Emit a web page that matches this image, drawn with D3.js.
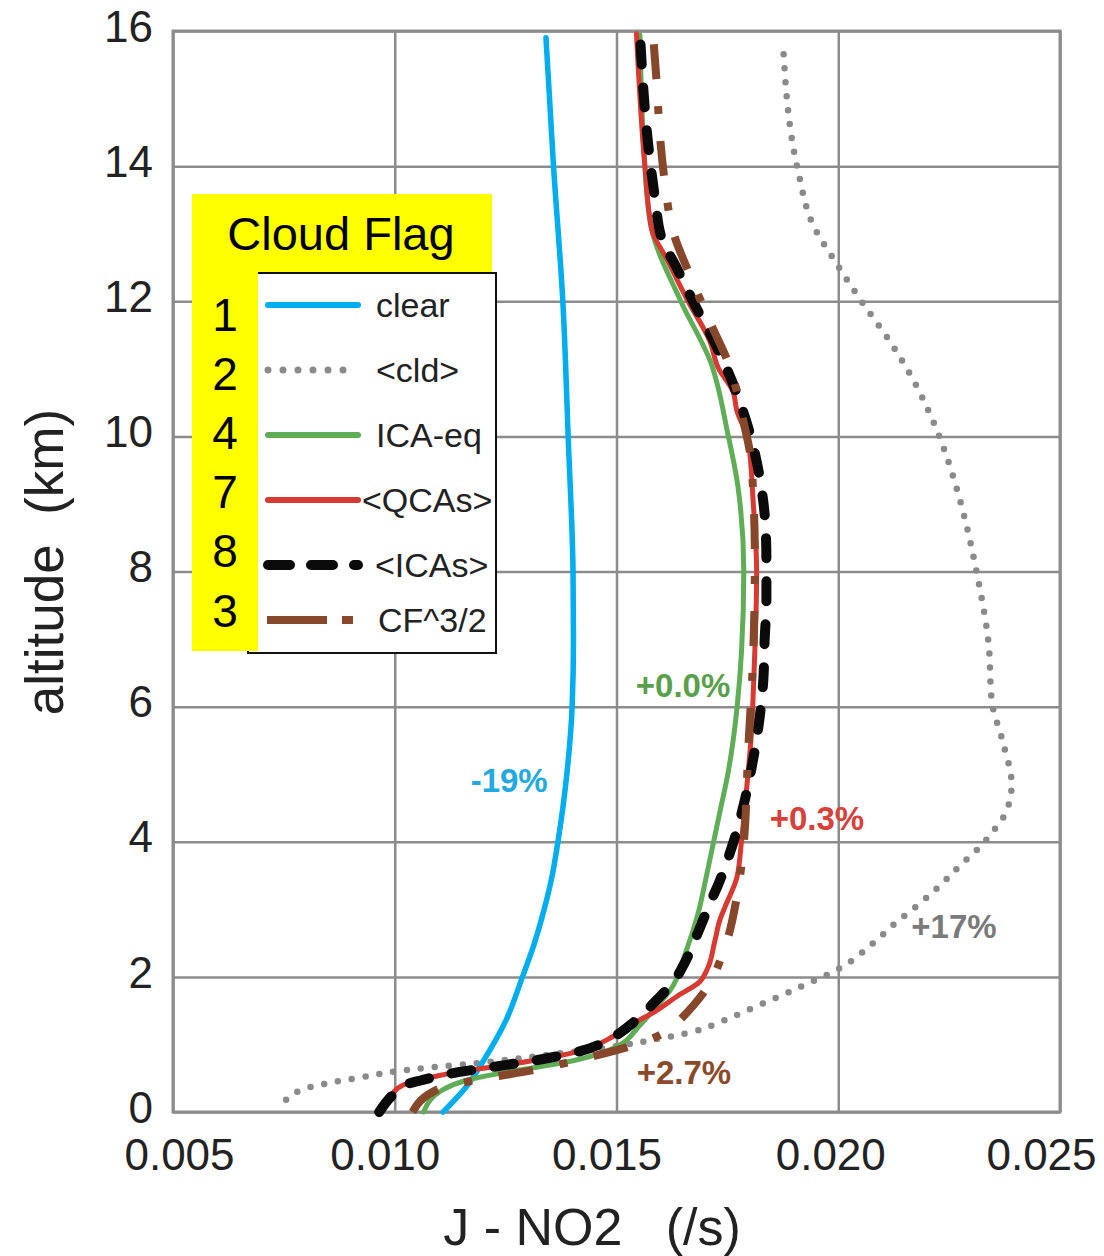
<!DOCTYPE html>
<html>
<head>
<meta charset="utf-8">
<script src="https://cdn.jsdelivr.net/npm/d3@7"></script>
<style>
  html, body { margin: 0; padding: 0; background: #ffffff; }
  svg { display: block; font-family: "Liberation Sans", Arial, Helvetica, sans-serif; }
</style>
</head>
<body>
<svg id="chart" width="1104" height="1256"></svg>
<script>
// Vertical profiles of the NO2 photolysis rate J (1/s) against altitude (km).
// Each profile is a list of [altitude, J] pairs.
const clearProfile = [
  [0, 0.01109], [0.37, 0.01161], [0.77, 0.01201], [1.36, 0.01251], [2, 0.01288],
  [2.5, 0.01315], [3, 0.01337], [3.5, 0.01355], [4, 0.01368], [4.5, 0.01379],
  [5, 0.01388], [6, 0.01400], [7, 0.01403], [8, 0.01402],
  [10, 0.01391], [12, 0.01379], [14, 0.01358], [15.9, 0.01341]
];
const cldProfile = [
  [0.18, 0.00755], [0.37, 0.00811], [0.46, 0.00876], [0.53, 0.00940], [0.60, 0.01001],
  [0.67, 0.01098], [0.71, 0.01165], [0.85, 0.01350], [0.99, 0.01515], [1.07, 0.01584],
  [1.19, 0.01673], [1.34, 0.01737], [1.51, 0.01797], [1.85, 0.01914], [2.13, 0.02004],
  [2.50, 0.02079], [2.79, 0.02128], [3.05, 0.02177], [3.33, 0.02226], [3.63, 0.02272],
  [3.93, 0.02320], [4.26, 0.02361], [4.43, 0.02378], [4.85, 0.02391], [5.48, 0.02371],
  [6.09, 0.02346], [6.93, 0.02339], [7.99, 0.02312], [8.82, 0.02284], [9.23, 0.02267],
  [10.03, 0.02226], [10.80, 0.02172], [11.35, 0.02122], [12.04, 0.02048], [12.57, 0.01995],
  [13.12, 0.01944], [13.94, 0.01909], [15.85, 0.01875]
];
const icaEqProfile = [
  [0, 0.01065], [0.33, 0.01109], [0.47, 0.01162], [0.60, 0.01260], [0.72, 0.01373],
  [0.92, 0.01485], [1.3, 0.01555], [1.51, 0.01583], [1.80, 0.01621], [2.40, 0.01658],
  [2.94, 0.01684], [3.5, 0.01703], [4.0, 0.01719], [4.5, 0.01735], [5.0, 0.01751],
  [5.5, 0.01763], [6.0, 0.01772], [6.83, 0.01782], [8.0, 0.01787], [9.25, 0.01774],
  [10.04, 0.01751], [11.12, 0.01711], [12.0, 0.01645], [13.1, 0.01578], [14.0, 0.01564],
  [15.94, 0.01553]
];
const qcasProfile = [
  [0, 0.00960], [0.23, 0.00989], [0.40, 0.01019], [0.47, 0.01057], [0.58, 0.01132],
  [0.67, 0.01222], [0.77, 0.01320], [0.89, 0.01410], [1.12, 0.01493], [1.34, 0.01546],
  [1.46, 0.01580], [1.71, 0.01636], [1.93, 0.01688], [2.12, 0.01705], [2.54, 0.01722],
  [2.84, 0.01733], [3.04, 0.01745], [3.46, 0.01771], [4.02, 0.01782], [4.76, 0.01793],
  [5.50, 0.01803], [6.49, 0.01810], [7.99, 0.01816], [9.05, 0.01808], [9.94, 0.01797],
  [10.39, 0.01771], [10.66, 0.01763], [11.02, 0.01729], [11.40, 0.01711], [12.04, 0.01658],
  [12.63, 0.01613], [13.05, 0.01580], [14.0, 0.01564], [14.6, 0.01557], [15.96, 0.01545]
];
const icasProfile = [
  [0, 0.00965], [0.23, 0.00992], [0.40, 0.01022], [0.47, 0.01060], [0.58, 0.01135],
  [0.67, 0.01225], [0.77, 0.01322], [0.89, 0.01412], [1.12, 0.01495], [1.32, 0.01537],
  [1.66, 0.01591], [1.93, 0.01629], [2.2, 0.01653], [2.74, 0.01689], [3.14, 0.01714],
  [3.33, 0.01727], [3.92, 0.01760], [4.42, 0.01782], [5.11, 0.01805], [5.80, 0.01822],
  [6.39, 0.01831], [6.98, 0.01834], [7.57, 0.01838], [8.17, 0.01838], [8.76, 0.01835],
  [9.35, 0.01824], [9.94, 0.01805], [10.55, 0.01776], [11.38, 0.01722], [11.94, 0.01677],
  [12.49, 0.01636], [12.93, 0.01602], [13.52, 0.01587], [14.35, 0.01571], [15.94, 0.01553]
];
const cf32Profile = [
  [0, 0.01040], [0.35, 0.01102], [0.50, 0.01207], [0.62, 0.01312], [0.79, 0.01425],
  [0.97, 0.01530], [1.26, 0.01628], [1.36, 0.01643], [1.80, 0.01700], [2.45, 0.01745],
  [3.17, 0.01771], [3.92, 0.01786], [5.36, 0.01797], [6.74, 0.01808], [8.17, 0.01812],
  [9.54, 0.01805], [10.34, 0.01782], [11.02, 0.01756], [11.69, 0.01711], [12.38, 0.01666],
  [13.02, 0.01628], [13.76, 0.01609], [14.45, 0.01598], [15.19, 0.01591], [15.9, 0.01583]
];

// Axis ticks
const jTicks = [0.005, 0.010, 0.015, 0.020, 0.025];
const jTickLabels = ["0.005", "0.010", "0.015", "0.020", "0.025"];
const altTicks = [0, 2, 4, 6, 8, 10, 12, 14, 16];

// Legend entries (cloud flag number, name) and percentage annotations
const flagNumbers = ["1", "2", "4", "7", "8", "3"];
const seriesNames = ["clear", "<cld>", "ICA-eq", "<QCAs>", "<ICAs>", "CF^3/2"];
const changeLabels = ["-19%", "+17%", "+0.0%", "+0.3%", "+2.7%"];
const changeAnchors = [[4.91, 0.01258], [2.75, 0.02261], [6.32, 0.01650], [4.35, 0.01952], [0.58, 0.01652]];

// Line styles for each series
const styles = [
  { color: "#00adee", width: 5.5, dash: null,            cap: "round", legendDash: null },
  { color: "#8a8a8a", width: 6.5, dash: "0,14",          cap: "round", legendDash: "0,15" },
  { color: "#60ad58", width: 5,   dash: null,            cap: "round", legendDash: null },
  { color: "#d73a32", width: 5,   dash: null,            cap: "round", legendDash: null },
  { color: "#0a0a0a", width: 10,  dash: "20,23",         cap: "round", legendDash: "22,21" },
  { color: "#87472a", width: 8,   dash: "35,27,8,27",    cap: "butt",  legendDash: "60,15,11,60" }
];
const profiles = [clearProfile, cldProfile, icaEqProfile, qcasProfile, icasProfile, cf32Profile];

const svg = d3.select("#chart");
const plotLeft = 173, plotRight = 1060, plotTop = 31, plotBottom = 1112;
const x = d3.scaleLinear().domain([0.005, 0.025]).range([plotLeft, plotRight]);
const y = d3.scaleLinear().domain([0, 16]).range([plotBottom, plotTop]);
const gridColor = "#8c8c8c";

// Gridlines with tick labels
const xAxis = svg.append("g")
  .attr("transform", `translate(0,${plotBottom})`)
  .call(d3.axisBottom(x).tickValues(jTicks).tickFormat((d, i) => jTickLabels[i])
    .tickSize(-(plotBottom - plotTop)).tickPadding(27));
const yAxis = svg.append("g")
  .attr("transform", `translate(${plotLeft},0)`)
  .call(d3.axisLeft(y).tickValues(altTicks).tickFormat(d3.format("d"))
    .tickSize(-(plotRight - plotLeft)).tickPadding(20));
[xAxis, yAxis].forEach(g => {
  g.select(".domain").remove();
  g.selectAll(".tick line").attr("stroke", gridColor).attr("stroke-width", 2.5);
  g.selectAll(".tick text").attr("fill", "#222").style("font-size", "44px")
    .style("font-family", "'Liberation Sans', Arial, sans-serif");
});
// Left labels sit a little above their gridlines
yAxis.selectAll(".tick text").attr("dy", "0.23em");
// Bottom labels sit slightly left of their gridlines; the last one stays inside the page
const xLabelShift = [6, -10, -10, -8, -19];
xAxis.selectAll(".tick text").attr("dx", (d, i) => xLabelShift[i]);

// Plot frame
svg.append("rect")
  .attr("x", plotLeft).attr("y", plotTop)
  .attr("width", plotRight - plotLeft).attr("height", plotBottom - plotTop)
  .attr("fill", "none").attr("stroke", gridColor).attr("stroke-width", 3);

// Axis titles
svg.append("text")
  .attr("x", 592).attr("y", 1245)
  .attr("text-anchor", "middle")
  .attr("fill", "#222")
  .style("font-size", "52px")
  .style("white-space", "pre")
  .text("J - NO2   (/s)");
svg.append("text")
  .attr("transform", "translate(63,562) rotate(-90)")
  .attr("text-anchor", "middle")
  .attr("fill", "#222")
  .style("font-size", "53px")
  .style("white-space", "pre")
  .text("altitude  (km)");

// Profiles: drawn back to front so dashed curves sit on top of solid ones
const line = d3.line()
  .x(d => x(d[1]))
  .y(d => y(d[0]))
  .curve(d3.curveMonotoneY);
const drawOrder = [1, 0, 2, 3, 4, 5];
drawOrder.forEach(i => {
  const s = styles[i];
  svg.append("path")
    .datum(profiles[i])
    .attr("d", line)
    .attr("fill", "none")
    .attr("stroke", s.color)
    .attr("stroke-width", s.width)
    .attr("stroke-linecap", s.cap)
    .attr("stroke-linejoin", "round")
    .attr("stroke-dasharray", s.dash);
});

// Percentage change annotations
const labelColors = ["#23a9e1", "#7a7a7a", "#5a9f4b", "#d8403a", "#8a4a2c"];
changeLabels.forEach((t, i) => {
  svg.append("text")
    .attr("x", x(changeAnchors[i][1]))
    .attr("y", y(changeAnchors[i][0]))
    .attr("text-anchor", "middle")
    .attr("dominant-baseline", "central")
    .attr("fill", labelColors[i])
    .style("font-size", "33px")
    .style("font-weight", "bold")
    .text(t);
});

// Legend box
const lg = svg.append("g");
lg.append("rect")
  .attr("x", 248).attr("y", 273).attr("width", 248).attr("height", 380)
  .attr("fill", "#ffffff").attr("stroke", "#111").attr("stroke-width", 2);
lg.append("rect").attr("x", 192).attr("y", 194).attr("width", 300).attr("height", 78).attr("fill", "#ffff00");
lg.append("rect").attr("x", 192).attr("y", 194).attr("width", 66).attr("height", 457).attr("fill", "#ffff00");
lg.append("text")
  .attr("x", 341).attr("y", 250)
  .attr("text-anchor", "middle")
  .attr("fill", "#000")
  .style("font-size", "47px")
  .text("Cloud Flag");

const rowY = [305, 370, 435, 500, 565, 620];
const numberY = [331, 390, 449, 508, 567, 627];
const labelX = [376, 376, 376, 362, 375, 378];
seriesNames.forEach((name, i) => {
  const s = styles[i];
  const x0 = i === 5 ? 267 : 268, x1 = i === 5 ? 353 : 358;
  lg.append("line")
    .attr("x1", x0).attr("x2", x1)
    .attr("y1", rowY[i]).attr("y2", rowY[i])
    .attr("stroke", s.color)
    .attr("stroke-width", i === 1 ? 7 : Math.max(s.width, 6))
    .attr("stroke-linecap", s.cap)
    .attr("stroke-dasharray", s.legendDash);
  lg.append("text")
    .attr("x", labelX[i]).attr("y", rowY[i] + 12)
    .attr("fill", "#222")
    .style("font-size", "34px")
    .text(name);
  lg.append("text")
    .attr("x", 225).attr("y", numberY[i])
    .attr("text-anchor", "middle")
    .attr("fill", "#000")
    .style("font-size", "46px")
    .text(flagNumbers[i]);
});
</script>
</body>
</html>
